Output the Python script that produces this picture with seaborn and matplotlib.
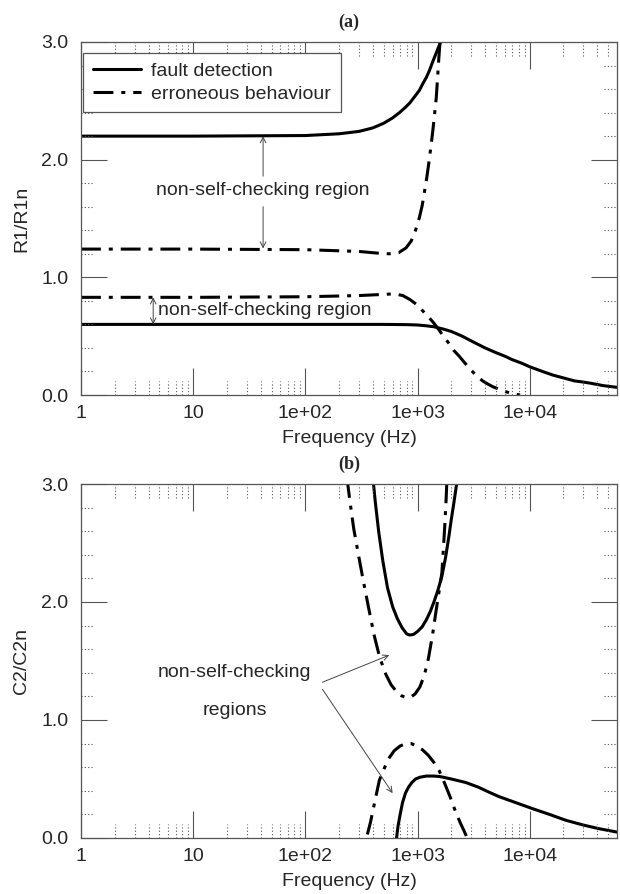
import numpy as np
import pandas as pd
import matplotlib
matplotlib.use("Agg")
import matplotlib.pyplot as plt
from matplotlib.lines import Line2D
import seaborn as sns

sns.set_style("ticks")
plt.rcParams['font.family'] = ['Liberation Sans', 'DejaVu Sans']

# ---------------- data ----------------
# Panel (a): R1/R1n vs frequency
fa_upper_f = [1, 10, 100, 200, 300, 400, 500, 600, 690, 770, 850, 950, 1040, 1120, 1200,
              1280, 1350, 1430, 1500, 1560, 1620, 1680]
fa_upper_v = [2.2, 2.2, 2.205, 2.22, 2.24, 2.27, 2.31, 2.355, 2.40, 2.44, 2.48, 2.54, 2.59, 2.65, 2.70,
              2.76, 2.82, 2.88, 2.93, 2.97, 3.01, 3.05]
ea_upper_f = [1, 10, 100, 300, 450, 560, 680, 790, 880, 960, 1040, 1100, 1150, 1210, 1260,
              1320, 1370, 1420, 1470, 1510, 1550, 1600]
ea_upper_v = [1.24, 1.24, 1.235, 1.22, 1.205, 1.20, 1.21, 1.25, 1.31, 1.40, 1.51, 1.61, 1.72, 1.85, 1.97,
              2.12, 2.25, 2.39, 2.53, 2.70, 2.87, 3.05]
ea_lower_f = [1, 10, 100, 300, 500, 620, 740, 860, 980, 1100, 1250, 1400, 1550, 1700, 1900, 2100,
              2350, 2600, 2850, 3150, 3450, 3800, 4200, 4700, 5300, 6000, 7000, 8200]
ea_lower_v = [0.83, 0.83, 0.835, 0.845, 0.855, 0.86, 0.845, 0.81, 0.77, 0.72, 0.665, 0.61, 0.555, 0.50, 0.44, 0.38,
              0.33, 0.28, 0.235, 0.19, 0.155, 0.12, 0.095, 0.07, 0.05, 0.03, 0.012, 0.0]
fa_lower_f = [1, 10, 100, 500, 800, 1000, 1200, 1400, 1700, 2000, 2500, 3150, 4000, 5000, 6000,
              7000, 8500, 10000, 13000, 16000, 20000, 25000, 30000, 35000, 45000, 60000]
fa_lower_v = [0.6, 0.6, 0.6, 0.6, 0.598, 0.595, 0.588, 0.58, 0.56, 0.54, 0.50, 0.45, 0.40, 0.36, 0.33,
              0.30, 0.27, 0.24, 0.20, 0.17, 0.145, 0.12, 0.11, 0.10, 0.08, 0.065]

# Panel (b): C2/C2n vs frequency
fb_upper_f = [400, 420, 450, 490, 540, 600, 660, 730, 800, 850, 920, 1000, 1100, 1200, 1300,
              1400, 1520, 1650, 1780, 1900, 2000, 2100, 2200, 2250]
fb_upper_v = [3.05, 2.85, 2.6, 2.35, 2.12, 1.96, 1.86, 1.78, 1.73, 1.72, 1.725, 1.75, 1.79, 1.85, 1.92,
              2.0, 2.1, 2.22, 2.38, 2.55, 2.7, 2.83, 2.96, 3.03]
eb_upper_f = [235, 250, 270, 300, 330, 370, 410, 460, 520, 580, 650, 720, 795, 870, 950, 1050,
              1150, 1250, 1370, 1450, 1550, 1650, 1700, 1750, 1800, 1830]
eb_upper_v = [3.05, 2.85, 2.62, 2.38, 2.17, 1.93, 1.72, 1.53, 1.39, 1.30, 1.24, 1.205, 1.19, 1.195, 1.22, 1.28,
              1.38, 1.52, 1.74, 1.9, 2.08, 2.25, 2.45, 2.65, 2.88, 3.05]
eb_lower_f = [357, 380, 410, 457, 500, 550, 620, 700, 790, 880, 980, 1100, 1250, 1400, 1560,
              1750, 1950, 2150, 2400, 2600, 2770]
eb_lower_v = [0.03, 0.13, 0.28, 0.49, 0.58, 0.67, 0.74, 0.78, 0.80, 0.80, 0.78, 0.75, 0.70, 0.64, 0.57,
              0.46, 0.35, 0.24, 0.13, 0.06, 0.0]
fb_lower_f = [650, 670, 700, 735, 780, 830, 890, 960, 1050, 1200, 1400, 1600, 2000, 2700, 3500,
              4300, 5350, 7500, 10500, 15000, 21000, 30000, 41000, 60000]
fb_lower_v = [0.0, 0.1, 0.2, 0.30, 0.38, 0.43, 0.47, 0.50, 0.515, 0.525, 0.525, 0.52, 0.50, 0.47, 0.43,
              0.39, 0.35, 0.30, 0.25, 0.20, 0.15, 0.11, 0.08, 0.05]

x_ticks = [1, 10, 100, 1000, 10000]
x_tick_labels = ["1", "10", "1e+02", "1e+03", "1e+04"]
y_ticks = [0, 1, 2, 3]
y_tick_labels = ["0.0", "1.0", "2.0", "3.0"]
legend_labels = ["fault detection", "erroneous behaviour"]

# ---------------- styling ----------------
FS = 14
LW = 2.2
DASHDOT = (0, (6.5, 2.6, 1.3, 2.6))
SPINE_C = '#555555'

fig = plt.figure(figsize=(6.2, 8.94), dpi=100)
W, H = 620, 894


def make_ax(top_px, bottom_px, left_px=81, right_px=617):
    return fig.add_axes([left_px / W, 1 - bottom_px / H,
                         (right_px - left_px) / W, (bottom_px - top_px) / H])


ax_a = make_ax(42, 395)
ax_b = make_ax(484, 838)


def style_axis(ax, ylabel):
    ax.set_xscale('log')
    ax.set_xlim(1, 6e4)
    ax.set_ylim(0, 3)
    ax.set_xticks(x_ticks)
    ax.set_xticklabels(x_tick_labels, fontsize=FS)
    ax.set_yticks(y_ticks)
    ax.set_yticklabels(y_tick_labels, fontsize=FS)
    ax.minorticks_off()
    ax.tick_params(axis='x', which='major', direction='in', length=19.4, width=0.8,
                   color=SPINE_C, top=True, bottom=True, pad=7)
    ax.tick_params(axis='y', which='major', direction='in', length=18.7, width=0.8,
                   color=SPINE_C, left=True, right=True, pad=9)
    ax.tick_params(axis='x', which='minor', length=0)
    ax.tick_params(axis='y', which='minor', length=0)
    for s in ax.spines.values():
        s.set_color(SPINE_C)
        s.set_linewidth(0.9)
        s.set_visible(True)
    # dotted minor ticks (decoration)
    minor_x = [m * 10 ** k for k in range(0, 5) for m in range(2, 10) if m * 10 ** k < 6e4]
    fx = 0.04
    ax.vlines(minor_x, 0, fx, transform=ax.get_xaxis_transform(),
              colors=SPINE_C, linestyles=[(0, (1, 2))], linewidth=0.8)
    ax.vlines(minor_x, 1 - fx, 1, transform=ax.get_xaxis_transform(),
              colors=SPINE_C, linestyles=[(0, (1, 2))], linewidth=0.8)
    minor_y = [u + d for u in range(3) for d in (0.2, 0.4, 0.6, 0.8)]
    fy = 0.024
    ax.hlines(minor_y, 0, fy, transform=ax.get_yaxis_transform(),
              colors=SPINE_C, linestyles=[(0, (1, 2))], linewidth=0.8)
    ax.hlines(minor_y, 1 - fy, 1, transform=ax.get_yaxis_transform(),
              colors=SPINE_C, linestyles=[(0, (1, 2))], linewidth=0.8)
    ax.set_xlabel("Frequency (Hz)", fontsize=FS, labelpad=6)
    ax.set_ylabel(ylabel, fontsize=FS)
    ax.yaxis.set_label_coords(-0.095, 0.5)


def draw(ax, f, v, dashed):
    df = pd.DataFrame({'f': f, 'v': v})
    sns.lineplot(data=df, x='f', y='v', ax=ax, color='black', linewidth=LW,
                 linestyle=DASHDOT if dashed else '-',
                 sort=False, estimator=None, legend=False)


# Panel (a)
draw(ax_a, fa_upper_f, fa_upper_v, False)
draw(ax_a, ea_upper_f, ea_upper_v, True)
draw(ax_a, ea_lower_f, ea_lower_v, True)
draw(ax_a, fa_lower_f, fa_lower_v, False)
style_axis(ax_a, "R1/R1n")

handles = [Line2D([], [], color='black', lw=LW, linestyle='-'),
           Line2D([], [], color='black', lw=LW, linestyle=DASHDOT)]
leg = ax_a.legend(handles, legend_labels, loc='upper left',
                  bbox_to_anchor=(0.004, 0.969), borderaxespad=0, fontsize=FS,
                  frameon=True, fancybox=False, edgecolor=SPINE_C, framealpha=1,
                  handlelength=2.5, handletextpad=0.5, labelspacing=0.25, borderpad=0.5)
leg.get_frame().set_linewidth(0.9)

arrow_kw = dict(arrowstyle='->', color='#444444', lw=0.7, shrinkA=0, shrinkB=0)
ax_a.text(42, 1.74, "non-self-checking region", fontsize=FS, ha='center', va='center')
ax_a.annotate("", xy=(42, 2.2), xytext=(42, 1.86), arrowprops=arrow_kw)
ax_a.annotate("", xy=(42, 1.245), xytext=(42, 1.60), arrowprops=arrow_kw)
ax_a.annotate("", xy=(4.4, 0.83), xytext=(4.4, 0.6),
              arrowprops=dict(arrowstyle='<->', color='#444444', lw=0.7, shrinkA=0, shrinkB=0))
ax_a.text(4.9, 0.72, "non-self-checking region", fontsize=FS, ha='left', va='center')
ax_a.set_title("(a)", fontsize=13, fontweight='bold', family=['Liberation Serif', 'DejaVu Serif'], pad=11)

# Panel (b)
draw(ax_b, fb_upper_f, fb_upper_v, False)
draw(ax_b, eb_upper_f, eb_upper_v, True)
draw(ax_b, eb_lower_f, eb_lower_v, True)
draw(ax_b, fb_lower_f, fb_lower_v, False)
style_axis(ax_b, "C2/C2n")

ax_b.text(23.4, 1.40, "non-self-checking", fontsize=FS, ha='center', va='center')
ax_b.text(23.4, 1.08, "regions", fontsize=FS, ha='center', va='center')
ax_b.annotate("", xy=(560, 1.55), xytext=(142, 1.32), arrowprops=arrow_kw)
ax_b.annotate("", xy=(600, 0.38), xytext=(142, 1.26), arrowprops=arrow_kw)
ax_b.set_title("(b)", fontsize=13, fontweight='bold', family=['Liberation Serif', 'DejaVu Serif'], pad=11)

fig.savefig("out.png", dpi=100)
